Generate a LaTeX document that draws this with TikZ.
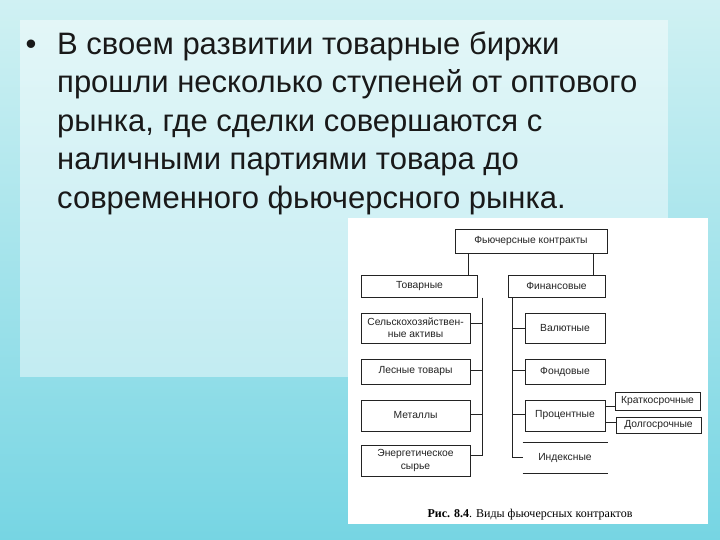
\documentclass[tikz,border=0pt]{standalone}
\usepackage{fontspec}
\setmainfont{Liberation Serif}
\newfontfamily\slidefont{Liberation Sans}
\newfontfamily\chartfont{Liberation Sans}
\definecolor{slideTop}{RGB}{208,241,243}
\definecolor{slideBottom}{RGB}{118,213,227}
\definecolor{chartInk}{RGB}{35,35,35}
\begin{document}
\begin{tikzpicture}[x=1pt, y=-1pt]
% slide of 720 x 540, y runs downward
\providecommand{\chartLineWidth}{1pt}
\tikzset{
  chartbox/.style={draw=chartInk, line width=\chartLineWidth, fill=white, inner sep=1pt, align=center,
    font=\chartfont\fontsize{10.3}{12}\selectfont, text=chartInk},
  link/.style={draw=chartInk, line width=\chartLineWidth},
}
\useasboundingbox (0,0) rectangle (720,540);
% Background and light panel
\shade[top color=slideTop, bottom color=slideBottom] (0,0) rectangle (720,540);
\fill[white, opacity=0.45] (20,20) rectangle (668,377);
% Bullet text
\begin{scope}[font=\slidefont\fontsize{31}{38}\selectfont, text=black!90]
  \node[anchor=base, inner sep=0] (dot) at (31,55) {\textbullet};
  \node[anchor=base west, inner sep=0] (line1) at (57,55) {В своем развитии товарные биржи};
  \node[anchor=base west, inner sep=0] (line2) at (57,93) {прошли несколько ступеней от оптового};
  \node[anchor=base west, inner sep=0] (line3) at (57,132) {рынка, где сделки совершаются с};
  \node[anchor=base west, inner sep=0] (line4) at (57,170) {наличными партиями товара до};
  \node[anchor=base west, inner sep=0] (line5) at (57,208) {современного фьючерсного рынка.};
\end{scope}
% Scanned figure
\fill[white] (348,218) rectangle (708,524);
\node[chartbox, minimum width=152pt, minimum height=23pt] (futures) at (531,241.5) {Фьючерсные контракты};
\node[chartbox, minimum width=116pt, minimum height=22pt] (goods) at (419.5,286) {Товарные};
\node[chartbox, minimum width=97pt, minimum height=22pt] (finance) at (556.5,286) {Финансовые};
% Commodity column
\node[chartbox, minimum width=109pt, minimum height=30pt] (agro) at (415.5,328) {Сельскохозяйствен-\\ные активы};
\node[chartbox, minimum width=109pt, minimum height=25pt] (forest) at (415.5,371.5) {Лесные товары};
\node[chartbox, minimum width=109pt, minimum height=31pt] (metals) at (415.5,415.5) {Металлы};
\node[chartbox, minimum width=109pt, minimum height=31pt] (energy) at (415.5,460.5) {Энергетическое\\[1pt]сырье};
% Financial column
\node[chartbox, minimum width=80pt, minimum height=30pt] (currency) at (565,328) {Валютные};
\node[chartbox, minimum width=80pt, minimum height=25pt] (stock) at (565,371.5) {Фондовые};
\node[chartbox, minimum width=80pt, minimum height=31pt] (interest) at (565,415.5) {Процентные};
\node[chartbox, draw=none, minimum width=84pt, minimum height=30pt] (index) at (565,458) {Индексные};
\node[chartbox, minimum width=85pt, minimum height=18pt] (short) at (657.5,401) {Краткосрочные};
\node[chartbox, minimum width=85pt, minimum height=16pt] (long) at (658.5,425) {Долгосрочные};
\draw[link] (index.north west) -- (index.north east);
\draw[link] (index.south west) -- (index.south east);
% Connectors
\coordinate (goodsDrop) at (468,0);
\coordinate (financeDrop) at (593,0);
\coordinate (goodsTrunk) at (482,0);
\coordinate (financeTrunk) at (512,0);
\draw[link] (goodsDrop |- futures.south) -- (goodsDrop |- goods.north);
\draw[link] (financeDrop |- futures.south) -- (financeDrop |- finance.north);
\foreach \n/\s in {agro/5,forest/1,metals/1,energy/5} {
  \coordinate (\n Tap) at ([yshift=\s pt]\n.east);
  \draw[link] (\n Tap) -- (goodsTrunk |- \n Tap);
}
\draw[link] (goodsTrunk |- goods.south) -- (goodsTrunk |- energyTap);
\foreach \n/\s in {currency/0,stock/1,interest/1,index/1} {
  \coordinate (\n Tap) at ([yshift=\s pt]\n.west);
  \draw[link] (\n Tap) -- (financeTrunk |- \n Tap);
}
\draw[link] (financeTrunk |- finance.south) -- (financeTrunk |- indexTap);
\coordinate (shortTap) at ([yshift=-5pt]short.west);
\coordinate (longTap) at ([yshift=3pt]long.west);
\draw[link] (interest.east |- shortTap) -- (shortTap);
\draw[link] (interest.east |- longTap) -- (longTap);
% Caption
\node[anchor=base, font=\fontsize{12}{14}\selectfont] (caption) at (530,517) {\textbf{Рис. 8.4}. Виды фьючерсных контрактов};
\end{tikzpicture}
\end{document}
